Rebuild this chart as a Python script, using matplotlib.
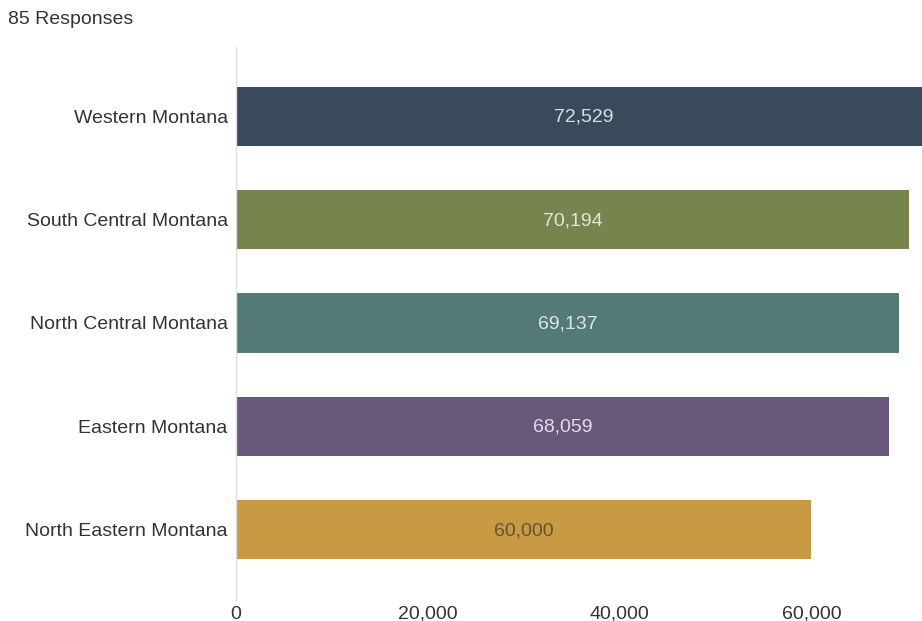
import matplotlib
matplotlib.use("Agg")
import matplotlib.pyplot as plt
from matplotlib.ticker import FuncFormatter

plt.rcParams["font.family"] = ["Liberation Sans", "DejaVu Sans"]

# data
regions = [
    "Western Montana",
    "South Central Montana",
    "North Central Montana",
    "Eastern Montana",
    "North Eastern Montana",
]
values = [72529, 70194, 69137, 68059, 60000]
bar_colors = ["#384a5b", "#76854e", "#537a76", "#67587b", "#c89a43"]
label_colors = ["#d8dde2", "#e2e6d8", "#dde6e4", "#e2dde8", "#625435"]
x_ticks = [0, 20000, 40000, 60000]
subtitle = "85 Responses"


def main():
    fig = plt.figure(figsize=(9.22, 6.21), dpi=100)
    ax = fig.add_axes([236 / 922, 21 / 621, 686 / 922, 553 / 621])

    pos = list(range(len(regions)))
    ax.barh(pos, values, height=0.575, color=bar_colors, zorder=2)

    # value labels centred in the bars
    for p, v, c in zip(pos, values, label_colors):
        ax.text(v / 2, p + 0.01, f"{v:,}", ha="center", va="center",
                fontsize=14, color=c, zorder=3)

    ax.set_xlim(0, 686 / 0.00959)
    ax.set_ylim(4.68, -0.67)

    ax.set_yticks(pos)
    ax.set_yticklabels(regions)
    ax.set_xticks(x_ticks)
    ax.xaxis.set_major_formatter(FuncFormatter(lambda x, _: f"{int(x):,}"))
    ax.tick_params(axis="both", length=0, labelsize=14, colors="#333333")
    ax.tick_params(axis="y", pad=6)
    ax.tick_params(axis="x", pad=4)

    for side in ["top", "right", "bottom"]:
        ax.spines[side].set_visible(False)
    ax.spines["left"].set_color("#dddddd")
    ax.spines["left"].set_linewidth(1)

    fig.text(8 / 922, 1 - 19 / 621, subtitle, fontsize=14,
             color="#333333", ha="left", va="center")

    fig.savefig("out.png", dpi=100)


if __name__ == "__main__":
    main()
